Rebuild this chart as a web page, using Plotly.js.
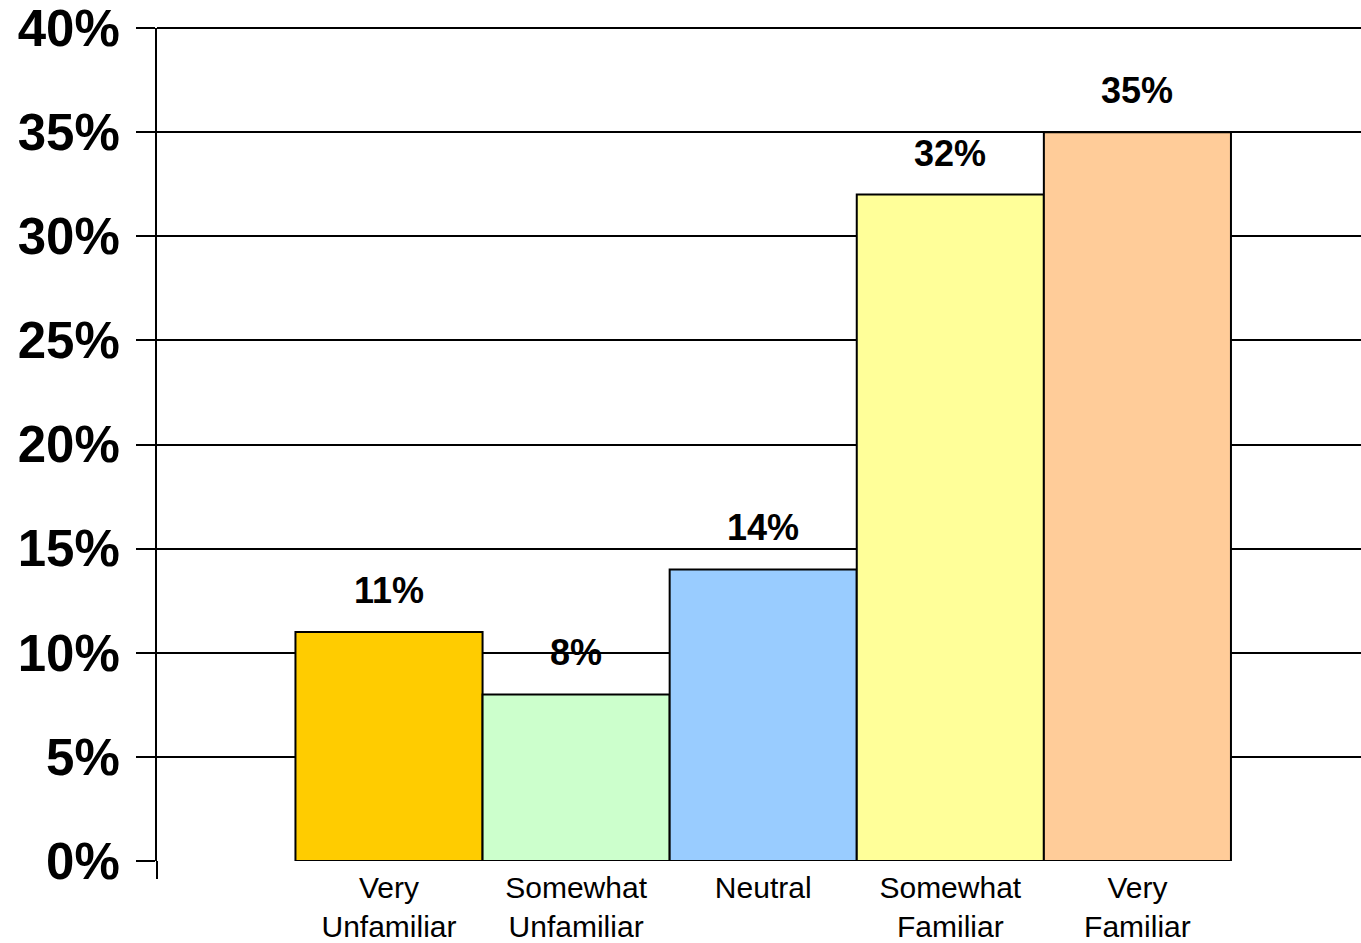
<!DOCTYPE html>
<html>
<head>
<meta charset="utf-8">
<script src="https://cdn.plot.ly/plotly-3.0.1.min.js"></script>
<style>html,body{margin:0;padding:0;background:#fff;}#chart{width:1361px;height:943px;}</style>
</head>
<body>
<div id="chart"></div>
<script>
const categories = ["Very<br>Unfamiliar", "Somewhat<br>Unfamiliar", "Neutral", "Somewhat<br>Familiar", "Very<br>Familiar"];
const values = [11, 8, 14, 32, 35];
const barColors = ["#FFCC00", "#CCFFCC", "#99CCFF", "#FFFF99", "#FFCC99"];
const yTicks = [0, 5, 10, 15, 20, 25, 30, 35, 40];

const trace = {
  type: "bar",
  x: categories,
  y: values,
  width: 1,
  marker: {color: barColors, line: {color: "#000", width: 2}},
  hoverinfo: "skip"
};

const annotations = categories.map((c, i) => ({
  x: c, y: values[i], xref: "x", yref: "y",
  text: values[i] + "%", showarrow: false,
  yanchor: "bottom", yshift: 19,
  font: {family: "Liberation Sans, Arial, sans-serif", size: 36, color: "#000", weight: "bold"}
}));

const layout = {
  width: 1361, height: 943,
  margin: {l: 157, r: 0, t: 28, b: 82},
  paper_bgcolor: "#fff", plot_bgcolor: "#fff",
  showlegend: false,
  bargap: 0,
  xaxis: {
    type: "category",
    range: [-1.24, 5.195],
    showgrid: false, zeroline: false, showline: false,
    ticks: "",
    tickfont: {family: "Liberation Sans, Arial, sans-serif", size: 30, color: "#000"},
    ticklabelstandoff: 6,
    fixedrange: true
  },
  yaxis: {
    range: [0, 40],
    tickvals: yTicks,
    ticktext: yTicks.map(v => v + "%"),
    showgrid: true, gridcolor: "#000", gridwidth: 2,
    zeroline: false,
    showline: true, linecolor: "#000", linewidth: 2,
    ticks: "outside", ticklen: 19, tickwidth: 2, tickcolor: "#000",
    tickfont: {family: "Liberation Sans, Arial, sans-serif", size: 51, color: "#000", weight: "bold"},
    ticklabelstandoff: 6,
    ticklabeloverflow: "allow",
    fixedrange: true
  },
  annotations: annotations,
  shapes: [
    {type: "line", xref: "paper", yref: "paper", x0: 0, x1: 0, y0: -0.0216, y1: 0,
     line: {color: "#000", width: 2}},
    {type: "line", xref: "paper", yref: "paper", x0: 0, x1: 1, y0: 1, y1: 1,
     line: {color: "#000", width: 2}, layer: "below"}
  ]
};

Plotly.newPlot("chart", [trace], layout, {displayModeBar: false, staticPlot: true});
</script>
</body>
</html>
